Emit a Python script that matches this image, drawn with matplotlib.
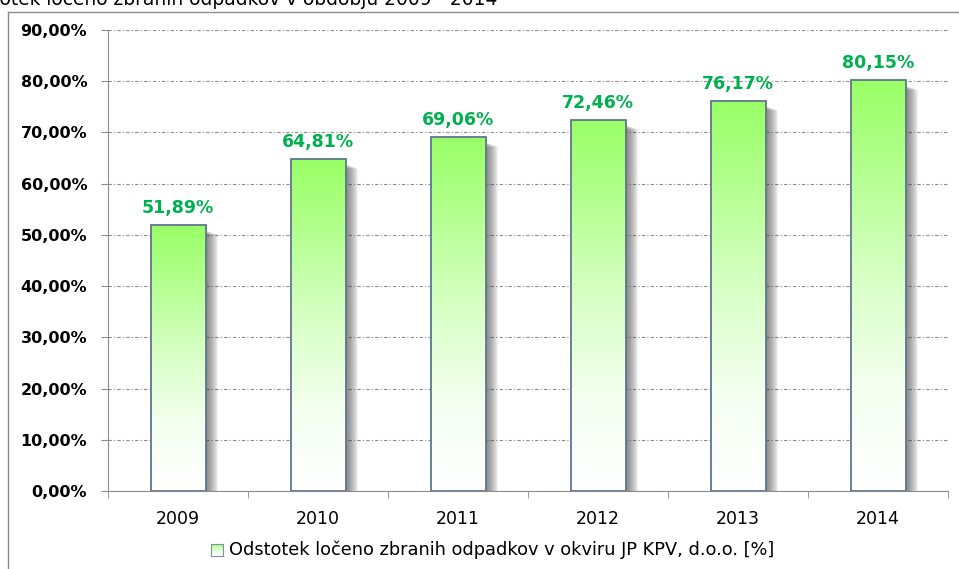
import numpy as np
import matplotlib
matplotlib.use("Agg")
import matplotlib.pyplot as plt
from matplotlib.colors import LinearSegmentedColormap
from matplotlib.patches import Rectangle
from matplotlib.lines import Line2D

years = ["2009", "2010", "2011", "2012", "2013", "2014"]
values = [51.89, 64.81, 69.06, 72.46, 76.17, 80.15]
yticks = [0, 10, 20, 30, 40, 50, 60, 70, 80, 90]
title = "Odstotek ločeno zbranih odpadkov v obdobju 2009 - 2014"
legend_label = "Odstotek ločeno zbranih odpadkov v okviru JP KPV, d.o.o. [%]"

W, H = 959, 569
fig = plt.figure(figsize=(W / 100, H / 100), dpi=100)

def fx(px):
    return px / W

def fy(py):
    return 1 - py / H

# outer border (partly cut off)
fig.add_artist(Line2D([fx(8), fx(8)], [fy(12), 0], color="#8c8c8c", lw=1.0))
fig.add_artist(Line2D([fx(8), 1], [fy(12), fy(12)], color="#8c8c8c", lw=1.0))

# title, cut off by the top edge as in the reference
fig.text(fx(497), fy(5), title, ha="right", va="baseline", fontsize=13.4,
         family="DejaVu Sans", color="black")

ax = fig.add_axes([fx(108), fy(491), fx(948) - fx(108), fy(30) - fy(491)])
ax.set_xlim(-0.5, len(years) - 0.5)
ax.set_ylim(0, 90)

cmap = LinearSegmentedColormap.from_list(
    "g", [(0.0, "#ffffff"), (0.25, "#f4fff0"), (0.55, "#d4ffc0"), (0.8, "#b2ff8c"), (1.0, "#99ff66")])
grad = np.linspace(0, 1, 256).reshape(-1, 1)

px = 1 / 140.0
bw = 55 * px
for i, v in enumerate(values):
    # soft shadow to the right
    for k in range(12):
        off = (k + 1) * px
        sh = Rectangle((i - bw / 2, 0), bw + off, v - 1.0 - k * 0.08,
                       facecolor="#404040", edgecolor="none",
                       alpha=0.07, zorder=2)
        ax.add_patch(sh)
    im = ax.imshow(grad, cmap=cmap, aspect="auto", origin="lower",
                   extent=(i - bw / 2, i + bw / 2, 0, v), zorder=3,
                   interpolation="bilinear")
    rect = Rectangle((i - bw / 2, 0), bw, v, facecolor="none",
                     edgecolor="#5f7590", lw=1.3, zorder=4)
    ax.add_patch(rect)
    im.set_clip_path(rect)
    ax.text(i, v + 1.6, f"{v:.2f}%".replace(".", ","), ha="center", va="bottom",
            fontsize=12.5, fontweight="bold", color="#00b050", zorder=5)

ax.set_xlim(-0.5, len(years) - 0.5)
ax.set_ylim(0, 90)

ax.set_yticks(yticks)
ax.set_yticklabels([f"{t:.2f}%".replace(".", ",") for t in yticks],
                   fontsize=11.5, fontweight="bold")
ax.set_xticks(range(len(years)))
ax.set_xticklabels(years, fontsize=12.5)
ax.tick_params(axis="x", length=0, pad=14)
ax.set_xticks(np.arange(-0.5, len(years), 1.0), minor=True)
ax.tick_params(axis="x", which="minor", length=5, color="#8c8c8c", direction="out")
ax.tick_params(axis="y", length=5, color="#8c8c8c", direction="out", pad=10)

ax.yaxis.grid(True, color="#8a8a8a", linestyle=(0, (3, 2, 1, 2)), lw=0.8)
ax.set_axisbelow(True)
for s in ["top", "right"]:
    ax.spines[s].set_visible(False)
for s in ["left", "bottom"]:
    ax.spines[s].set_color("#8c8c8c")

# legend
lx, ly = 211, 550
lax = fig.add_axes([fx(lx), fy(ly + 6), fx(12), fy(ly - 6) - fy(ly + 6)])
lax.imshow(grad, cmap=cmap, aspect="auto", origin="lower", extent=(0, 1, 0, 1))
lax.set_xticks([]); lax.set_yticks([])
for s in lax.spines.values():
    s.set_color("#8090a8"); s.set_linewidth(0.8)
fig.text(fx(229), fy(ly), legend_label, ha="left", va="center", fontsize=12.8)

fig.savefig("out.png", dpi=100)
